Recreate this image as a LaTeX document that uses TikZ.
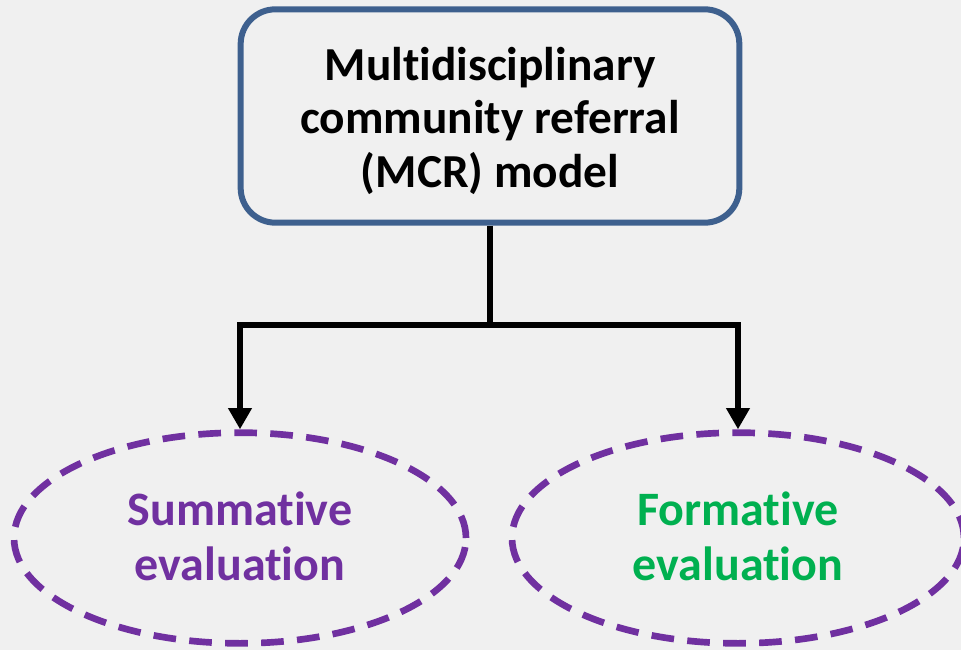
\documentclass[tikz,border=0pt]{standalone}
\usepackage{fontspec}
\setmainfont{Carlito}[Ligatures=NoCommon]
\usetikzlibrary{shapes.geometric,arrows.meta}
\definecolor{boxblue}{RGB}{62,96,142}
\definecolor{evalpurple}{RGB}{112,48,160}
\definecolor{evalgreen}{RGB}{0,176,80}
\definecolor{slidebg}{RGB}{240,240,240}

\begin{document}
\begin{tikzpicture}
[x=0.75pt,y=-0.75pt,%
  model/.style={draw=boxblue,line width=4.5pt,rounded corners=26pt,%
    minimum width=374pt,minimum height=160pt,align=center,%
    text height=110pt,text depth=3.5pt,%
    font=\fontsize{35.5}{40}\selectfont\bfseries},%
  evalnode/.style={ellipse,draw=evalpurple,line width=5pt,%
    dash pattern=on 17pt off 10pt,minimum width=339pt,minimum height=158pt,%
    text height=66pt,text depth=3pt,%
    align=center,font=\fontsize{36}{41}\selectfont\bfseries},%
  link/.style={line width=4.5pt,black},%
  tip/.style={-{Triangle[width=17pt,length=16pt]}}]
\clip (0,0) rectangle (961,650);
\fill[slidebg] (0,0) rectangle (961,650);
\node[model] (mcr) at (490,116) {Multidisciplinary\\community referral\\(MCR) model};
\node[evalnode,text=evalpurple] (summ) at (240,538) {Summative\\evaluation};
\node[evalnode,text=evalgreen] (form) at (738,538) {Formative\\evaluation};
\coordinate (fork) at (490,325);
\draw[link] (mcr) -- (fork);
\draw[link,tip] (fork) -| (summ.north);
\draw[link,tip] (fork) -| (form.north);
\end{tikzpicture}
\end{document}
